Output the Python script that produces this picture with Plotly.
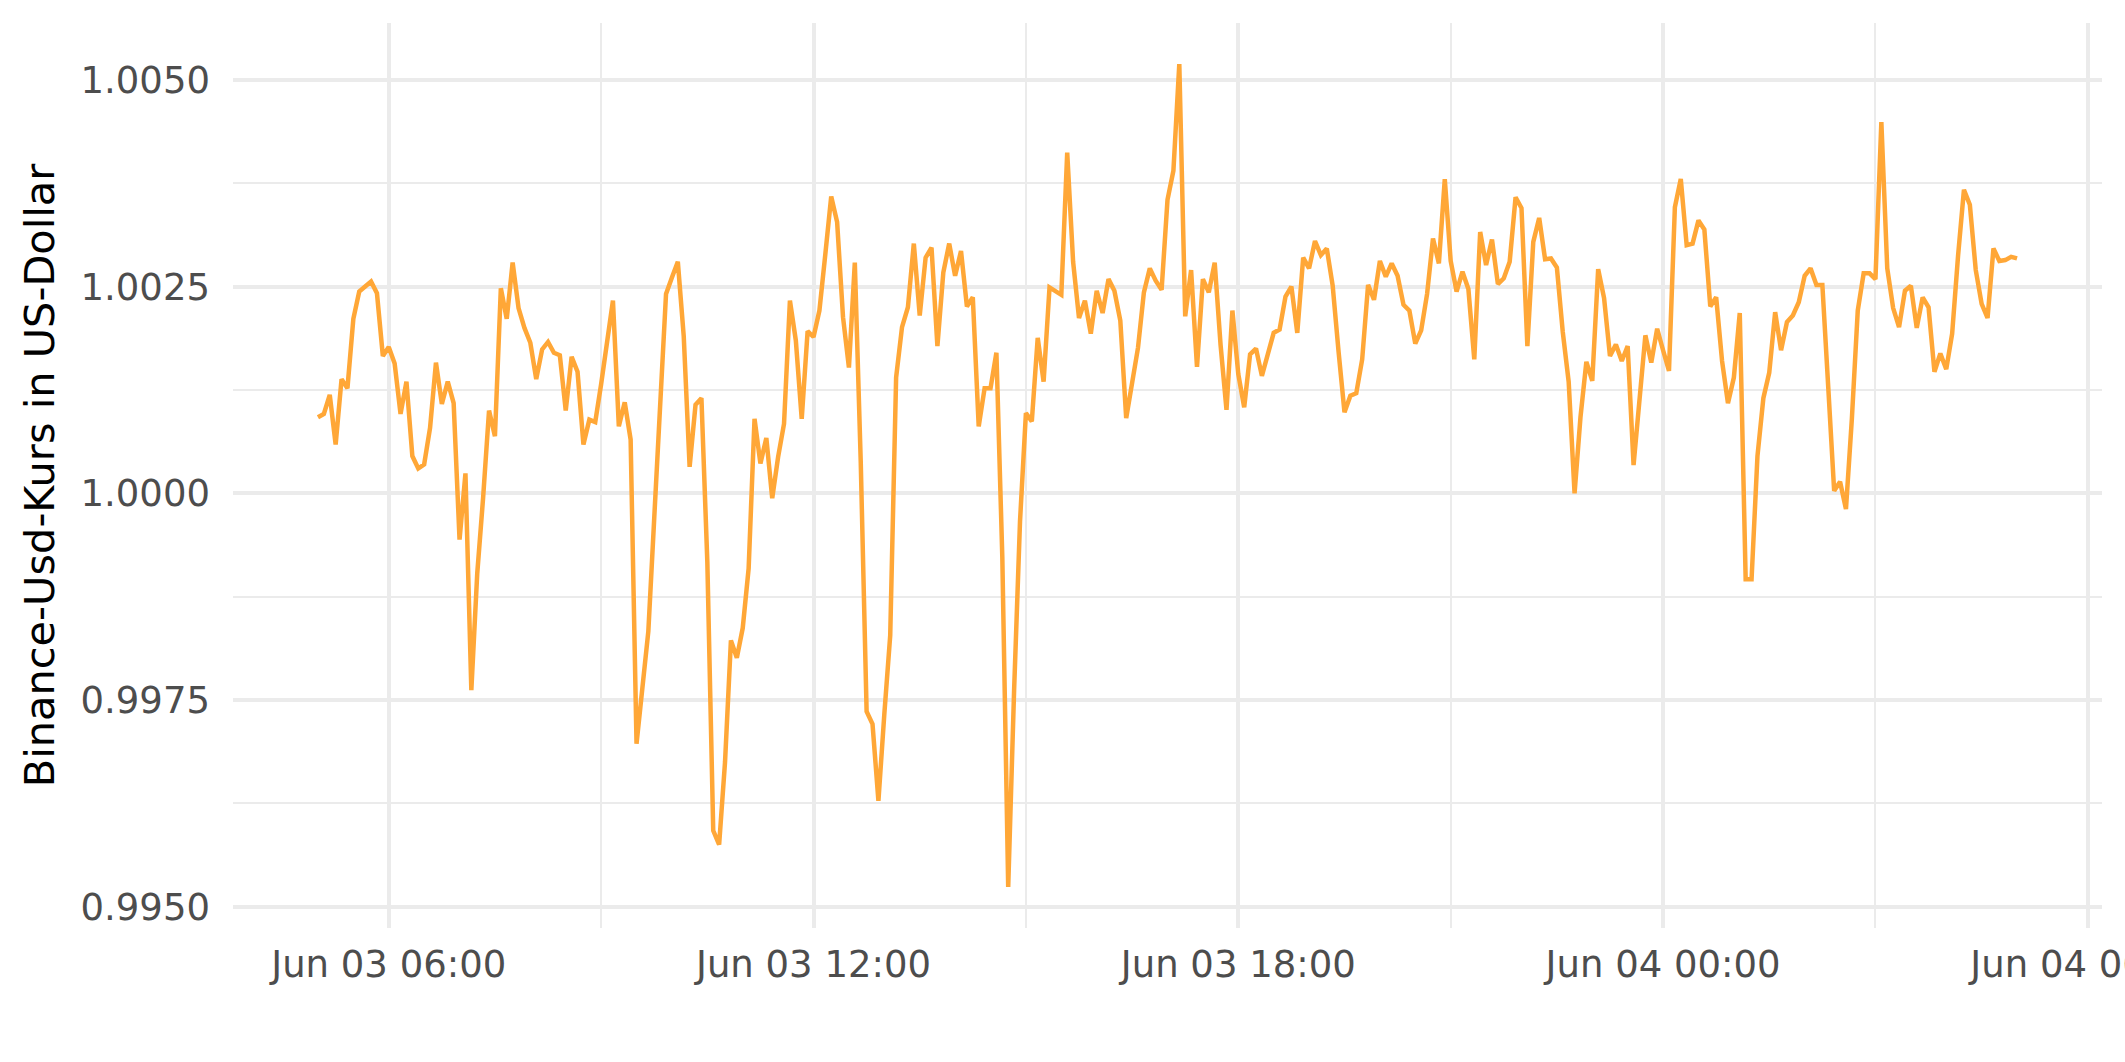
import pandas as pd
import plotly.graph_objects as go

# ---- data ----
start_time = "2023-06-03 05:00"
step = "5min"
kurs = [
    1.00092, 1.00096, 1.00119, 1.00059, 1.00138, 1.00127, 1.00211, 1.00244, 1.00250, 1.00256,
    1.00242, 1.00166, 1.00177, 1.00157, 1.00096, 1.00135, 1.00045, 1.00030, 1.00035, 1.00079,
    1.00158, 1.00108, 1.00135, 1.00109, 0.99944, 1.00024, 0.99762, 0.99903, 0.99995, 1.00100,
    1.00069, 1.00248, 1.00211, 1.00279, 1.00224, 1.00200, 1.00182, 1.00138, 1.00174, 1.00183,
    1.00170, 1.00167, 1.00100, 1.00165, 1.00147, 1.00059, 1.00089, 1.00086, 1.00132, 1.00182,
    1.00233, 1.00081, 1.00110, 1.00065, 0.99697, 0.99765, 0.99833, 0.99970, 1.00105, 1.00241,
    1.00261, 1.00280, 1.00190, 1.00032, 1.00107, 1.00115, 0.99917, 0.99592, 0.99575, 0.99675,
    0.99822, 0.99801, 0.99837, 0.99909, 1.00090, 1.00036, 1.00067, 0.99994, 1.00044, 1.00084,
    1.00233, 1.00185, 1.00090, 1.00196, 1.00189, 1.00221, 1.00289, 1.00359, 1.00328, 1.00213,
    1.00152, 1.00279, 1.00039, 0.99736, 0.99721, 0.99628, 0.99733, 0.99828, 1.00140, 1.00201,
    1.00225, 1.00302, 1.00215, 1.00285, 1.00297, 1.00178, 1.00267, 1.00302, 1.00263, 1.00293,
    1.00226, 1.00237, 1.00081, 1.00127, 1.00127, 1.00170, 0.99923, 0.99524, 0.99762, 0.99966,
    1.00097, 1.00087, 1.00188, 1.00135, 1.00249, 1.00244, 1.00240, 1.00412, 1.00280, 1.00212,
    1.00233, 1.00193, 1.00245, 1.00218, 1.00259, 1.00245, 1.00209, 1.00091, 1.00137, 1.00176,
    1.00243, 1.00272, 1.00257, 1.00246, 1.00355, 1.00390, 1.00519, 1.00214, 1.00270, 1.00153,
    1.00259, 1.00243, 1.00279, 1.00179, 1.00101, 1.00221, 1.00144, 1.00104, 1.00168, 1.00175,
    1.00142, 1.00170, 1.00194, 1.00198, 1.00238, 1.00250, 1.00194, 1.00285, 1.00272, 1.00305,
    1.00288, 1.00296, 1.00251, 1.00171, 1.00098, 1.00118, 1.00121, 1.00162, 1.00252, 1.00234,
    1.00281, 1.00262, 1.00278, 1.00263, 1.00228, 1.00221, 1.00181, 1.00197, 1.00241, 1.00308,
    1.00278, 1.00380, 1.00281, 1.00244, 1.00268, 1.00247, 1.00162, 1.00316, 1.00276, 1.00307,
    1.00253, 1.00260, 1.00280, 1.00358, 1.00345, 1.00178, 1.00304, 1.00333, 1.00283, 1.00284,
    1.00273, 1.00195, 1.00135, 1.00000, 1.00092, 1.00159, 1.00136, 1.00271, 1.00236, 1.00166,
    1.00180, 1.00160, 1.00178, 1.00034, 1.00112, 1.00191, 1.00158, 1.00199, 1.00173, 1.00148,
    1.00346, 1.00380, 1.00300, 1.00302, 1.00330, 1.00319, 1.00226, 1.00237, 1.00160, 1.00109,
    1.00140, 1.00218, 0.99896, 0.99896, 1.00045, 1.00115, 1.00146, 1.00219, 1.00173, 1.00207,
    1.00215, 1.00231, 1.00263, 1.00272, 1.00252, 1.00252, 1.00128, 1.00003, 1.00014, 0.99981,
    1.00090, 1.00221, 1.00266, 1.00266, 1.00259, 1.00449, 1.00272, 1.00224, 1.00201, 1.00245,
    1.00251, 1.00200, 1.00237, 1.00225, 1.00147, 1.00169, 1.00150, 1.00193, 1.00287, 1.00367,
    1.00349, 1.00270, 1.00229, 1.00212, 1.00296, 1.00281, 1.00282, 1.00286, 1.00284,
]
zeit = pd.date_range(start_time, periods=len(kurs), freq=step)

y_ticks = [0.9950, 0.9975, 1.0000, 1.0025, 1.0050]
y_tick_labels = ["0.9950", "0.9975", "1.0000", "1.0025", "1.0050"]
y_title = "Binance-Usd-Kurs in US-Dollar"

# ---- figure ----
FONT = "DejaVu Sans"
GRID = "#EBEBEB"

fig = go.Figure()
fig.add_trace(go.Scatter(
    x=zeit, y=kurs, mode="lines",
    line=dict(color="#FFA737", width=4.5),
    showlegend=False, hoverinfo="skip",
))

# expanded ranges like ggplot (5 % on each side)
span_t = zeit[-1] - zeit[0]
x_range = [zeit[0] - span_t * 0.05, zeit[-1] + span_t * 0.05]
ymin, ymax = min(kurs), max(kurs)
pad = (ymax - ymin) * 0.05
y_range = [ymin - pad, ymax + pad]

fig.update_layout(
    width=2125, height=1062,
    margin=dict(l=233, r=23, t=23, b=134, autoexpand=False),
    paper_bgcolor="white", plot_bgcolor="white",
    font=dict(family=FONT, color="#4D4D4D", size=37),
)
fig.update_xaxes(
    type="date", range=x_range,
    tickformat="%b %d %H:%M",
    tick0="2023-06-03 00:00", dtick=6 * 3600 * 1000,
    ticks="", showline=False, zeroline=False,
    showgrid=True, gridcolor=GRID, gridwidth=3.5,
    minor=dict(dtick=3 * 3600 * 1000, tick0="2023-06-03 00:00",
               showgrid=True, gridcolor=GRID, gridwidth=1.8, ticks=""),
    tickfont=dict(family=FONT, size=37, color="#4D4D4D"),
    ticklabelstandoff=11,
    ticklabeloverflow="allow",
    automargin=False,
)
fig.update_yaxes(
    range=y_range,
    tickmode="array", tickvals=y_ticks, ticktext=y_tick_labels,
    ticks="", showline=False, zeroline=False,
    showgrid=True, gridcolor=GRID, gridwidth=3.5,
    minor=dict(tickmode="array",
               tickvals=[0.99625, 0.99875, 1.00125, 1.00375],
               showgrid=True, gridcolor=GRID, gridwidth=1.8, ticks=""),
    tickfont=dict(family=FONT, size=37, color="#4D4D4D"),
    ticklabelstandoff=22,
    title=dict(text=y_title, font=dict(family=FONT, size=41.5, color="black"),
               standoff=13),
    automargin=False,
)

fig.write_html(
    "out.html",
    config={"displayModeBar": False},
    post_script="document.body.style.margin='0';document.body.style.overflow='hidden';",
)
